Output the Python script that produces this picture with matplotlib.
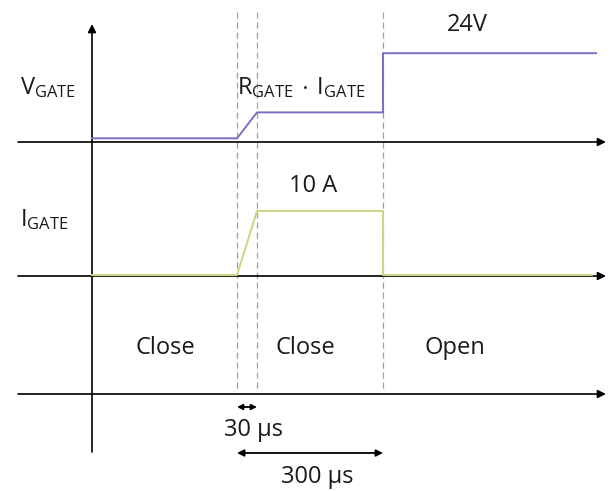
"""
Gate voltage / gate current timing sketch (close -> open).
"""

import matplotlib
matplotlib.use("Agg")
import matplotlib.pyplot as plt

plt.rcParams["font.family"] = ["Open Sans", "DejaVu Sans"]
plt.rcParams["mathtext.fontset"] = "custom"
plt.rcParams["mathtext.rm"] = "Open Sans"

# schematic time breakpoints (diagram units, not to scale)
t_v = [0, 145, 165, 291, 291, 504]
v_gate = [1, 1, 8, 8, 24, 24]          # V
t_i = [0, 145, 165, 291, 291, 500]
i_gate = [0.15, 0.15, 10, 10, 0.15, 0.15]  # A
markers_t = [145, 165, 291]
states = ["Close", "Close", "Open"]
states_t = [73, 213, 363]

# layout (pixel-like units)
V_BASE, I_BASE, S_BASE = 142, 276, 394
V_SCALE, I_SCALE = 3.7, 6.5

fig = plt.figure(figsize=(6.11, 4.91), dpi=100)
ax = fig.add_axes([0, 0, 1, 1])
ax.set_xlim(-92, 519)
ax.set_ylim(491, 0)
ax.axis("off")

# axes arrows
for yb in (V_BASE, I_BASE, S_BASE):
    ax.annotate("", xy=(514, yb), xytext=(-74, yb),
                arrowprops=dict(arrowstyle="-|>", color="black", lw=1.2,
                                mutation_scale=12, shrinkA=0, shrinkB=0))
ax.annotate("", xy=(0, 24), xytext=(0, 452),
            arrowprops=dict(arrowstyle="-|>", color="black", lw=1.2,
                            mutation_scale=12, shrinkA=0, shrinkB=0))

# dashed markers
for t in markers_t:
    ax.plot([t, t], [12, 389], ls=(0, (5, 3)), color="#a0a0a0", lw=0.9)

# traces
ax.plot(t_v, [V_BASE - v * V_SCALE for v in v_gate], color="#7471c2", lw=1.4, zorder=5)
ax.plot(t_i, [I_BASE - i * I_SCALE for i in i_gate], color="#c9d882", lw=1.4, zorder=5)

fs = 17
tc = "#1a1a1a"
ax.text(-72, 88, r"$\mathregular{V_{GATE}}$", fontsize=fs, va="center", ha="left", color=tc)
ax.text(-72, 220, r"$\mathregular{I_{GATE}}$", fontsize=fs, va="center", ha="left", color=tc)
ax.text(145, 88, r"$\mathregular{R_{GATE}\,\cdot\,I_{GATE}}$", fontsize=fs,
        va="center", ha="left", color=tc)
ax.text(375, 25, "24V", fontsize=fs, va="center", ha="center", color=tc)
ax.text(221, 186, "10 A", fontsize=fs, va="center", ha="center", color=tc)

for t, s in zip(states_t, states):
    ax.text(t, 348, s, fontsize=fs, va="center", ha="center", color=tc)

# duration arrows
ax.annotate("", xy=(markers_t[0], 407), xytext=(markers_t[1], 407),
            arrowprops=dict(arrowstyle="<|-|>", color="black", lw=1.3,
                            mutation_scale=8, shrinkA=0, shrinkB=0))
ax.text(161, 430, "30 µs", fontsize=fs, va="center", ha="center", color=tc)
ax.annotate("", xy=(markers_t[0], 453), xytext=(markers_t[2], 453),
            arrowprops=dict(arrowstyle="<|-|>", color="black", lw=1.3,
                            mutation_scale=10, shrinkA=0, shrinkB=0))
ax.text(225, 477, "300 µs", fontsize=fs, va="center", ha="center", color=tc)

fig.savefig("out.png", dpi=100)
